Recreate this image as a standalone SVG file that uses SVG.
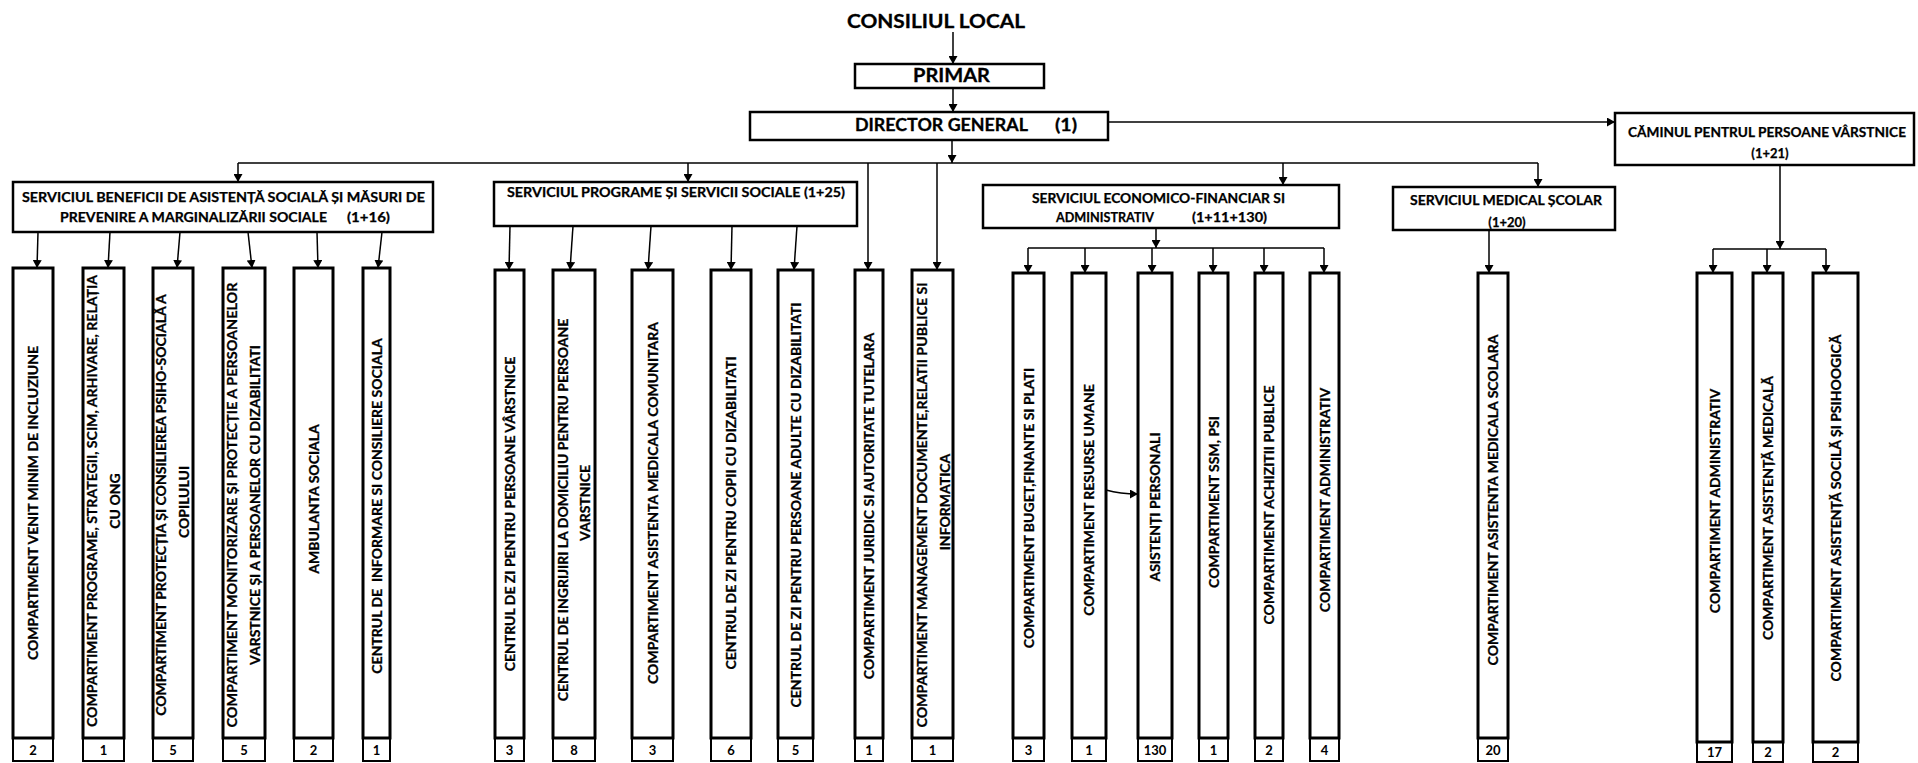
<svg xmlns="http://www.w3.org/2000/svg" width="1918" height="763" viewBox="0 0 1918 763">
<style>
text{font-family:Lato,"Liberation Sans",sans-serif;font-weight:bold;fill:#000}
.box{fill:#fff;stroke:#000;stroke-width:3}
.hdr{fill:#fff;stroke:#000;stroke-width:2.5}
.num{fill:#fff;stroke:#000;stroke-width:2}
.c{fill:none;stroke:#000;stroke-width:1.5}
.a{marker-end:url(#ah)}
.v{font-size:14px;text-anchor:middle;stroke:#000;stroke-width:0.3}
.h{font-size:12.5px;stroke:#000;stroke-width:0.25}
.hm{font-size:13px;text-anchor:middle;stroke:#000;stroke-width:0.25}
.n{font-size:13px;text-anchor:middle}
</style>
<defs>
<marker id="ah" markerWidth="8" markerHeight="9" refX="8" refY="4.5" orient="auto" markerUnits="userSpaceOnUse"><path d="M0,0 L8,4.5 L0,9 z" fill="#000"/></marker>
</defs>
<rect width="1918" height="763" fill="#fff"/>

<g id="connectors">
<path class="c a" d="M953,32 V64"/>
<path class="c a" d="M953,88 V112"/>
<path class="c a" d="M952,140 V163"/>
<path class="c a" d="M1108,122 H1615"/>
<path class="c" d="M238,163 H1538"/>
<path class="c a" d="M238,163 V182"/>
<path class="c a" d="M688,163 V182"/>
<path class="c a" d="M1283,163 V185"/>
<path class="c a" d="M1538,163 V187"/>
<path class="c a" d="M868,163 V270"/>
<path class="c a" d="M937,163 V270"/>
<path class="c a" d="M38,232 L37,268"/>
<path class="c a" d="M110,232 L108,268"/>
<path class="c a" d="M180,232 L177,268"/>
<path class="c a" d="M248,232 L252,268"/>
<path class="c a" d="M317,232 L318,268"/>
<path class="c a" d="M382,232 L378,268"/>
<path class="c a" d="M510,226 L509,270"/>
<path class="c a" d="M573,226 L570,270"/>
<path class="c a" d="M651,226 L648,270"/>
<path class="c a" d="M732,226 L731,270"/>
<path class="c a" d="M797,226 L794,270"/>
<path class="c a" d="M1156,228 V248"/>
<path class="c" d="M1028,248 H1324"/>
<path class="c a" d="M1028,248 V273"/>
<path class="c a" d="M1085,248 V273"/>
<path class="c a" d="M1152,248 V273"/>
<path class="c a" d="M1213,248 V273"/>
<path class="c a" d="M1264,248 V273"/>
<path class="c a" d="M1324,248 V273"/>
<path class="c a" d="M1106,490 Q1120,494 1138,494"/>
<path class="c a" d="M1489,230 V273"/>
<path class="c a" d="M1780,165 V249"/>
<path class="c" d="M1713,249 H1826"/>
<path class="c a" d="M1713,249 V273"/>
<path class="c a" d="M1767,249 V273"/>
<path class="c a" d="M1826,249 V273"/>
</g>

<g id="consiliul-local"><text x="936" y="28" font-size="19" text-anchor="middle" stroke="#000" stroke-width="0.3" textLength="178" lengthAdjust="spacingAndGlyphs">CONSILIUL LOCAL</text></g>
<g id="primar"><rect class="hdr" x="855" y="64" width="189" height="24"/><text x="951.5" y="82" font-size="18" text-anchor="middle" stroke="#000" stroke-width="0.3" textLength="77" lengthAdjust="spacingAndGlyphs">PRIMAR</text></g>
<g id="director"><rect class="hdr" x="750" y="112" width="358" height="28"/><text x="855" y="131" font-size="16.5" stroke="#000" stroke-width="0.3" textLength="173" lengthAdjust="spacingAndGlyphs">DIRECTOR GENERAL</text><text x="1055" y="131" font-size="16.5" stroke="#000" stroke-width="0.3" textLength="22" lengthAdjust="spacingAndGlyphs">(1)</text></g>

<g id="serv-beneficii"><rect class="hdr" x="13" y="182" width="420" height="50"/>
<text class="h" x="22" y="201.5" textLength="403" lengthAdjust="spacingAndGlyphs">SERVICIUL BENEFICII DE ASISTENȚĂ SOCIALĂ ȘI MĂSURI DE</text>
<text class="h" x="60" y="221.5" textLength="267" lengthAdjust="spacingAndGlyphs">PREVENIRE A MARGINALIZĂRII SOCIALE</text>
<text class="h" x="347" y="221.5" textLength="43" lengthAdjust="spacingAndGlyphs">(1+16)</text></g>

<g id="serv-programe"><rect class="hdr" x="494" y="182" width="363" height="44"/>
<text class="h" x="507" y="196.5" textLength="338" lengthAdjust="spacingAndGlyphs">SERVICIUL PROGRAME ȘI SERVICII SOCIALE (1+25)</text></g>

<g id="serv-economic"><rect class="hdr" x="983" y="185" width="356" height="43"/>
<text class="h" x="1032" y="202.5" textLength="253" lengthAdjust="spacingAndGlyphs">SERVICIUL ECONOMICO-FINANCIAR SI</text>
<text class="h" x="1056" y="221.5" textLength="98" lengthAdjust="spacingAndGlyphs">ADMINISTRATIV</text>
<text class="h" x="1192" y="221.5" textLength="75" lengthAdjust="spacingAndGlyphs">(1+11+130)</text></g>

<g id="serv-medical"><rect class="hdr" x="1393" y="187" width="222" height="43"/>
<text class="h" x="1410" y="204.5" textLength="192" lengthAdjust="spacingAndGlyphs">SERVICIUL MEDICAL ȘCOLAR</text>
<text class="hm" x="1507" y="226.5">(1+20)</text></g>

<g id="caminul"><rect class="hdr" x="1615" y="113" width="299" height="52"/>
<text class="h" x="1628" y="136.5" textLength="278" lengthAdjust="spacingAndGlyphs">CĂMINUL PENTRUL PERSOANE VÂRSTNICE</text>
<text class="hm" x="1770" y="157.5">(1+21)</text></g>

<g id="b1"><rect class="num" x="13" y="738" width="40" height="23"/><rect class="box" x="13" y="268" width="40" height="470"/>
<text class="v" transform="translate(33 503) rotate(-90)" y="5">COMPARTIMENT VENIT MINIM DE INCLUZIUNE</text><text class="n" x="33" y="754.5">2</text></g>
<g id="b2"><rect class="num" x="83" y="738" width="41" height="23"/><rect class="box" x="83" y="268" width="41" height="470"/>
<text class="v" transform="translate(92 501) rotate(-90)" y="5" textLength="452" lengthAdjust="spacingAndGlyphs">COMPARTIMENT PROGRAME, STRATEGII, SCIM, ARHIVARE, RELAȚIA</text>
<text class="v" transform="translate(115 501) rotate(-90)" y="5">CU ONG</text><text class="n" x="103.5" y="754.5">1</text></g>
<g id="b3"><rect class="num" x="153" y="738" width="40" height="23"/><rect class="box" x="153" y="268" width="40" height="470"/>
<text class="v" transform="translate(161 505) rotate(-90)" y="5">COMPARTIMENT PROTECȚIA ȘI CONSILIEREA PSIHO-SOCIALĂ A</text>
<text class="v" transform="translate(184 502) rotate(-90)" y="5">COPILULUI</text><text class="n" x="173" y="754.5">5</text></g>
<g id="b4"><rect class="num" x="223" y="738" width="42" height="23"/><rect class="box" x="223" y="268" width="42" height="470"/>
<text class="v" transform="translate(232 505) rotate(-90)" y="5" textLength="445" lengthAdjust="spacingAndGlyphs">COMPARTIMENT MONITORIZARE ȘI PROTECȚIE A PERSOANELOR</text>
<text class="v" transform="translate(255 505) rotate(-90)" y="5">VARSTNICE ȘI A PERSOANELOR CU DIZABILITATI</text><text class="n" x="244" y="754.5">5</text></g>
<g id="b5"><rect class="num" x="294" y="738" width="39" height="23"/><rect class="box" x="294" y="268" width="39" height="470"/>
<text class="v" transform="translate(313.5 499) rotate(-90)" y="5">AMBULANTA SOCIALA</text><text class="n" x="313.5" y="754.5">2</text></g>
<g id="b6"><rect class="num" x="363" y="738" width="27" height="23"/><rect class="box" x="363" y="268" width="27" height="470"/>
<text class="v" transform="translate(376.5 506) rotate(-90)" y="5" xml:space="preserve">CENTRUL DE  INFORMARE SI CONSILIERE SOCIALA</text><text class="n" x="376.5" y="754.5">1</text></g>

<g id="b7"><rect class="num" x="495" y="738" width="29" height="23"/><rect class="box" x="495" y="270" width="29" height="468"/>
<text class="v" transform="translate(509.5 514) rotate(-90)" y="5">CENTRUL DE ZI PENTRU PERSOANE VÂRSTNICE</text><text class="n" x="509.5" y="754.5">3</text></g>
<g id="b8"><rect class="num" x="553" y="738" width="42" height="23"/><rect class="box" x="553" y="270" width="42" height="468"/>
<text class="v" transform="translate(563 510) rotate(-90)" y="5">CENTRUL DE INGRIJIRI LA DOMICILIU PENTRU PERSOANE</text>
<text class="v" transform="translate(585 503) rotate(-90)" y="5">VARSTNICE</text><text class="n" x="574" y="754.5">8</text></g>
<g id="b9"><rect class="num" x="632" y="738" width="41" height="23"/><rect class="box" x="632" y="270" width="41" height="468"/>
<text class="v" transform="translate(652.5 503) rotate(-90)" y="5">COMPARTIMENT ASISTENTA MEDICALA COMUNITARA</text><text class="n" x="652.5" y="754.5">3</text></g>
<g id="b10"><rect class="num" x="711" y="738" width="40" height="23"/><rect class="box" x="711" y="270" width="40" height="468"/>
<text class="v" transform="translate(731 513) rotate(-90)" y="5">CENTRUL DE ZI PENTRU COPII CU DIZABILITATI</text><text class="n" x="731" y="754.5">6</text></g>
<g id="b11"><rect class="num" x="778" y="738" width="35" height="23"/><rect class="box" x="778" y="270" width="35" height="468"/>
<text class="v" transform="translate(795.5 505) rotate(-90)" y="5">CENTRUL DE ZI PENTRU PERSOANE ADULTE CU DIZABILITATI</text><text class="n" x="795.5" y="754.5">5</text></g>
<g id="b12"><rect class="num" x="855" y="738" width="28" height="23"/><rect class="box" x="855" y="270" width="28" height="468"/>
<text class="v" transform="translate(869 506) rotate(-90)" y="5">COMPARTIMENT JURIDIC SI AUTORITATE TUTELARA</text><text class="n" x="869" y="754.5">1</text></g>
<g id="b13"><rect class="num" x="912" y="738" width="41" height="23"/><rect class="box" x="912" y="270" width="41" height="468"/>
<text class="v" transform="translate(922 505) rotate(-90)" y="5" textLength="445" lengthAdjust="spacingAndGlyphs">COMPARTIMENT MANAGEMENT DOCUMENTE,RELATII PUBLICE SI</text>
<text class="v" transform="translate(945 502) rotate(-90)" y="5">INFORMATICA</text><text class="n" x="932.5" y="754.5">1</text></g>

<g id="b14"><rect class="num" x="1013" y="738" width="31" height="23"/><rect class="box" x="1013" y="273" width="31" height="465"/>
<text class="v" transform="translate(1028.5 508) rotate(-90)" y="5">COMPARTIMENT BUGET,FINANTE SI PLATI</text><text class="n" x="1028.5" y="754.5">3</text></g>
<g id="b15"><rect class="num" x="1072" y="738" width="34" height="23"/><rect class="box" x="1072" y="273" width="34" height="465"/>
<text class="v" transform="translate(1089 500) rotate(-90)" y="5">COMPARTIMENT RESURSE UMANE</text><text class="n" x="1089" y="754.5">1</text></g>
<g id="b16"><rect class="num" x="1138" y="738" width="34" height="23"/><rect class="box" x="1138" y="273" width="34" height="465"/>
<text class="v" transform="translate(1155 507) rotate(-90)" y="5">ASISTENȚI PERSONALI</text><text class="n" x="1155" y="754.5">130</text></g>
<g id="b17"><rect class="num" x="1199" y="738" width="29" height="23"/><rect class="box" x="1199" y="273" width="29" height="465"/>
<text class="v" transform="translate(1213.5 502) rotate(-90)" y="5">COMPARTIMENT SSM, PSI</text><text class="n" x="1213.5" y="754.5">1</text></g>
<g id="b18"><rect class="num" x="1255" y="738" width="28" height="23"/><rect class="box" x="1255" y="273" width="28" height="465"/>
<text class="v" transform="translate(1269 505) rotate(-90)" y="5">COMPARTIMENT ACHIZITII PUBLICE</text><text class="n" x="1269" y="754.5">2</text></g>
<g id="b19"><rect class="num" x="1310" y="738" width="29" height="23"/><rect class="box" x="1310" y="273" width="29" height="465"/>
<text class="v" transform="translate(1324.5 500) rotate(-90)" y="5">COMPARTIMENT ADMINISTRATIV</text><text class="n" x="1324.5" y="754.5">4</text></g>

<g id="b20"><rect class="num" x="1478" y="738" width="30" height="23"/><rect class="box" x="1478" y="273" width="30" height="465"/>
<text class="v" transform="translate(1493 500) rotate(-90)" y="5">COMPARTIMENT ASISTENTA MEDICALA SCOLARA</text><text class="n" x="1493" y="754.5">20</text></g>

<g id="b21"><rect class="num" x="1697" y="742" width="35" height="20"/><rect class="box" x="1697" y="273" width="35" height="469"/>
<text class="v" transform="translate(1714.5 501) rotate(-90)" y="5">COMPARTIMENT ADMINISTRATIV</text><text class="n" x="1714.5" y="756.5">17</text></g>
<g id="b22"><rect class="num" x="1753" y="742" width="30" height="20"/><rect class="box" x="1753" y="273" width="30" height="469"/>
<text class="v" transform="translate(1768 508) rotate(-90)" y="5">COMPARTIMENT ASISTENȚĂ MEDICALĂ</text><text class="n" x="1768" y="756.5">2</text></g>
<g id="b23"><rect class="num" x="1813" y="742" width="45" height="20"/><rect class="box" x="1813" y="273" width="45" height="469"/>
<text class="v" transform="translate(1835.5 508) rotate(-90)" y="5">COMPARTIMENT ASISTENȚĂ SOCILĂ ȘI PSIHOOGICĂ</text><text class="n" x="1835.5" y="756.5">2</text></g>
</svg>
